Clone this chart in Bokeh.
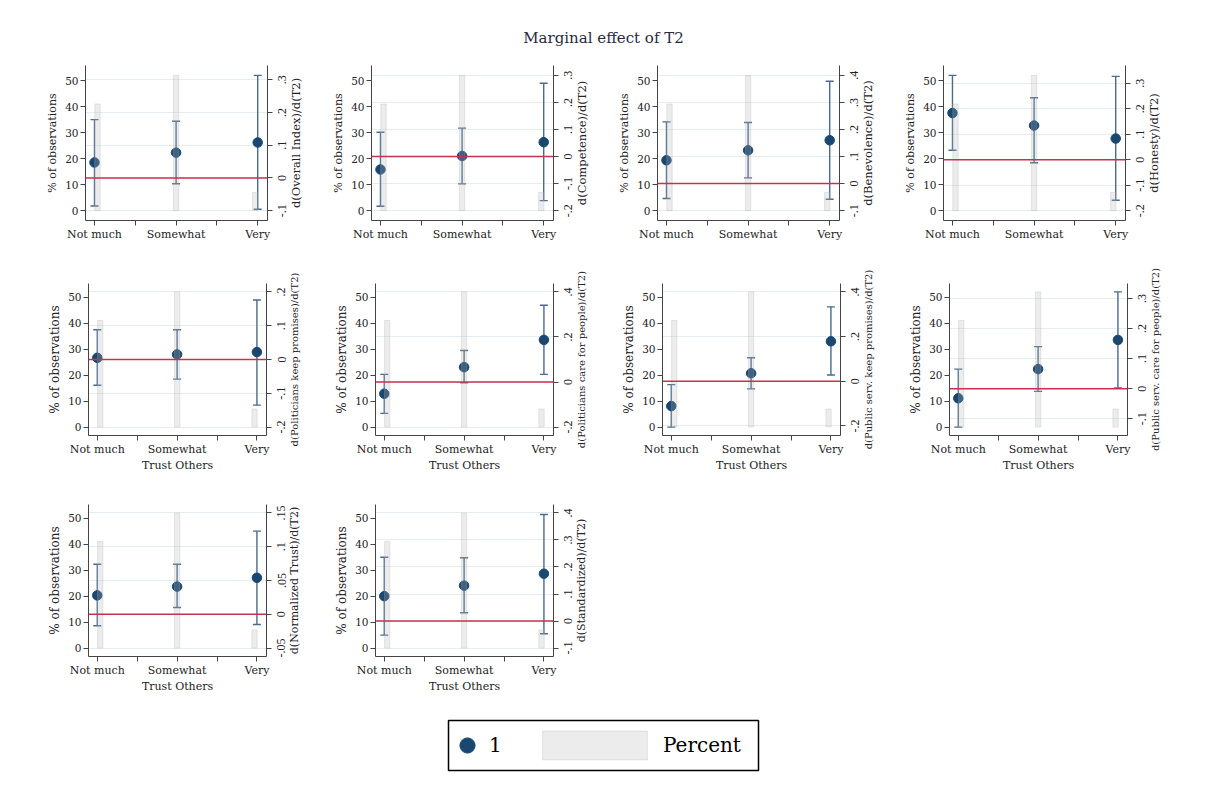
import math
from bokeh.plotting import figure
from bokeh.models import (Range1d, LinearAxis, FixedTicker, CustomJSTickFormatter, Span,
                          Whisker, TeeHead, ColumnDataSource, Legend, LegendItem, Label,
                          LabelSet, Grid, Spacer)
from bokeh.layouts import row, column
from bokeh.embed import file_html
from bokeh.resources import INLINE

# ---------------- data ----------------
TITLE = "Marginal effect of T2"
CATEGORIES = ["Not much", "Somewhat", "Very"]
X_TITLE = "Trust Others"
Y_TITLE = "% of observations"
PERCENT = [41, 52, 7]
LEFT_TICKS = [0, 10, 20, 30, 40, 50]
SERIES_LABEL = "1"
BAR_LABEL = "Percent"

OUTCOMES = ["Overall Index", "Competence", "Benevolence", "Honesty",
            "Politicians keep promises", "Politicians care for people",
            "Public serv. keep promises", "Public serv. care for people",
            "Normalized Trust", "Standardized"]

EST = [
    [0.047, 0.077, 0.108],
    [-0.048, 0.002, 0.053],
    [0.086, 0.123, 0.160],
    [0.183, 0.134, 0.083],
    [0.005, 0.015, 0.022],
    [-0.052, 0.066, 0.187],
    [-0.111, 0.036, 0.179],
    [-0.032, 0.065, 0.162],
    [0.028, 0.041, 0.054],
    [0.092, 0.131, 0.175],
]
CI_LO = [
    [-0.086, -0.018, -0.096],
    [-0.184, -0.101, -0.163],
    [-0.055, 0.021, -0.058],
    [0.037, -0.012, -0.159],
    [-0.076, -0.058, -0.135],
    [-0.139, -0.003, 0.034],
    [-0.205, -0.034, 0.028],
    [-0.128, -0.009, 0.002],
    [-0.017, 0.010, -0.015],
    [-0.052, 0.031, -0.047],
]
CI_HI = [
    [0.178, 0.173, 0.313],
    [0.090, 0.105, 0.271],
    [0.228, 0.226, 0.378],
    [0.331, 0.243, 0.327],
    [0.088, 0.088, 0.176],
    [0.034, 0.140, 0.341],
    [-0.015, 0.105, 0.333],
    [0.065, 0.140, 0.322],
    [0.074, 0.074, 0.123],
    [0.236, 0.234, 0.394],
]
RIGHT_TICKS = [
    [-0.1, 0, 0.1, 0.2, 0.3],
    [-0.2, -0.1, 0, 0.1, 0.2, 0.3],
    [-0.1, 0, 0.1, 0.2, 0.3, 0.4],
    [-0.2, -0.1, 0, 0.1, 0.2, 0.3],
    [-0.2, -0.1, 0, 0.1, 0.2],
    [-0.2, 0, 0.2, 0.4],
    [-0.2, 0, 0.2, 0.4],
    [-0.1, 0, 0.1, 0.2, 0.3],
    [-0.05, 0, 0.05, 0.1, 0.15],
    [-0.1, 0, 0.1, 0.2, 0.3, 0.4],
]

# ---------------- style ----------------
FONT = "DejaVu Serif"
NAVY = "#1a476f"
CI_COLOR = "#4a6b8e"
BAR_FILL = "#b3b3b3"
BAR_ALPHA = 0.25
ZERO_COLOR = "#c9304f"
GRID_COLOR = "#e4eef0"
AXIS_COLOR = "#444444"
TEXT_COLOR = "#222222"
BAR_SHIFT = [0.037, 0.0, -0.03]
BAR_WIDTH = 0.066
X_RANGE = (0.89, 3.12)
PAGE_OFFSET = 8
AX_BORDER = 7     # px right of frame kept in the main figure (tick marks)
RTICK_OFF = 15    # px right of frame: centre of rotated right tick labels
RTITLE_OFF = 28   # px right of frame: centre of rotated right axis title

ROWS = [
    dict(idx=[0, 1, 2, 3], fw=182, fh=155, T=12, B=28, L0=77, L=67, R=37, ext=10,
         ytitle="11px", rtitle="11.5px", pad=0.073, xtitle=False),
    dict(idx=[4, 5, 6, 7], fw=178, fh=152, T=35, B=35, L0=80, L=72, R=37, ext=15,
         ytitle="12px", rtitle="10px", pad=0.062, xtitle=True),
    dict(idx=[8, 9], fw=178, fh=152, T=30, B=35, L0=80, L=72, R=37, ext=15,
         ytitle="12px", rtitle="11px", pad=0.062, xtitle=True),
]

X_FMT = """
const k = Math.round(tick);
return Math.abs(tick - k) < 1e-9 ? cats[k - 1] : '';
"""

XPOS = list(range(1, len(CATEGORIES) + 1))
X_TICKS = sorted(XPOS + [x + 0.5 for x in XPOS[:-1]])


def stata_fmt(v):
    s = ("%.3f" % v).rstrip("0").rstrip(".")
    if s in ("-0", ""):
        s = "0"
    if s.startswith("-0."):
        return "-" + s[2:]
    if s.startswith("0."):
        return s[1:]
    return s


def style_axis(ax, tick_size="11px"):
    ax.axis_line_color = AXIS_COLOR
    ax.major_tick_line_color = AXIS_COLOR
    ax.minor_tick_line_color = None
    ax.major_tick_out = 5
    ax.major_tick_in = 0
    ax.major_label_standoff = 2
    ax.axis_label_standoff = 3
    ax.major_label_text_font = FONT
    ax.major_label_text_font_size = tick_size
    ax.major_label_text_color = TEXT_COLOR
    ax.axis_label_text_font = FONT
    ax.axis_label_text_font_style = "normal"
    ax.axis_label_text_color = TEXT_COLOR


def make_panel(i, rs, first):
    left_lo = min(min(LEFT_TICKS), 0)
    left_hi = max(max(LEFT_TICKS), max(PERCENT))
    lspan = left_hi - left_lo
    r_lo = min(min(RIGHT_TICKS[i]), min(CI_LO[i]))
    r_hi = max(max(RIGHT_TICKS[i]), max(CI_HI[i]))
    rspan = r_hi - r_lo
    pad = rs["pad"]
    fw, fh, ext = rs["fw"], rs["fh"], rs["ext"]
    me_lo, me_hi = r_lo - pad * rspan, r_hi + pad * rspan

    p = figure(frame_width=fw, frame_height=fh,
               min_border_left=rs["L0"] if first else rs["L"],
               min_border_right=AX_BORDER, min_border_top=rs["T"], min_border_bottom=rs["B"],
               x_range=Range1d(*X_RANGE),
               y_range=Range1d(left_lo - pad * lspan, left_hi + pad * lspan),
               toolbar_location=None, output_backend="svg")
    p.frame_align = False
    p.outline_line_color = None
    p.background_fill_color = "white"
    p.border_fill_color = "white"
    p.xgrid.visible = False
    p.ygrid.visible = False
    p.extra_y_ranges = {"me": Range1d(me_lo, me_hi)}

    # left axis
    yax = p.yaxis[0]
    yax.ticker = FixedTicker(ticks=LEFT_TICKS)
    yax.axis_label = Y_TITLE
    style_axis(yax, "10.5px")
    yax.axis_label_text_font_size = rs["ytitle"]

    # bottom axis
    xax = p.xaxis[0]
    xax.ticker = FixedTicker(ticks=X_TICKS)
    xax.formatter = CustomJSTickFormatter(args=dict(cats=CATEGORIES), code=X_FMT)
    style_axis(xax)
    if rs["xtitle"]:
        xax.axis_label = X_TITLE
        xax.axis_label_standoff = 0
        xax.axis_label_text_font_size = "11px"

    # right axis: line and tick marks (its rotated texts live in the side strip)
    rtick = FixedTicker(ticks=RIGHT_TICKS[i])
    rax = LinearAxis(y_range_name="me", ticker=rtick,
                     formatter=CustomJSTickFormatter(code="return '';"))
    style_axis(rax)
    rax.major_label_standoff = 0
    p.add_layout(rax, "right")

    p.add_layout(Grid(dimension=1, ticker=rtick, y_range_name="me",
                      grid_line_color=GRID_COLOR, grid_line_width=1))

    src = ColumnDataSource(dict(x=XPOS, est=EST[i], lo=CI_LO[i], hi=CI_HI[i]))
    p.add_layout(Whisker(source=src, base="x", upper="hi", lower="lo", dimension="height",
                         y_range_name="me", line_color=CI_COLOR, line_width=1.4,
                         upper_head=TeeHead(size=8, line_color=CI_COLOR, line_width=1.4),
                         lower_head=TeeHead(size=8, line_color=CI_COLOR, line_width=1.4)))
    p.scatter("x", "est", source=src, y_range_name="me", size=9.5,
              fill_color=NAVY, line_color=NAVY)

    bsrc = ColumnDataSource(dict(x=[x + s for x, s in zip(XPOS, BAR_SHIFT)], pct=PERCENT))
    p.vbar(x="x", top="pct", bottom=0, width=BAR_WIDTH, source=bsrc,
           fill_color=BAR_FILL, fill_alpha=BAR_ALPHA, line_color=BAR_FILL, line_alpha=0.3)

    p.add_layout(Span(location=0, dimension="width", y_range_name="me",
                      line_color=ZERO_COLOR, line_width=1.5))

    # side strip: right-axis tick labels and title, reading bottom-to-top
    upx = (me_hi - me_lo) / fh
    s = figure(frame_width=rs["R"] - AX_BORDER, frame_height=fh + 2 * ext,
               min_border_left=0, min_border_right=0,
               min_border_top=rs["T"] - ext, min_border_bottom=rs["B"] - ext,
               x_range=Range1d(0, 1), y_range=Range1d(me_lo - ext * upx, me_hi + ext * upx),
               x_axis_location=None, y_axis_location=None,
               toolbar_location=None, output_backend="svg")
    s.frame_align = False
    s.outline_line_color = None
    s.grid.visible = False
    tsrc = ColumnDataSource(dict(y=RIGHT_TICKS[i], text=[stata_fmt(v) for v in RIGHT_TICKS[i]]))
    s.add_layout(LabelSet(source=tsrc, x=RTICK_OFF - AX_BORDER, x_units="screen", y="y",
                          text="text", angle=math.pi / 2,
                          text_align="center", text_baseline="middle",
                          text_font=FONT, text_font_size="12px", text_color=TEXT_COLOR))
    s.add_layout(Label(x=RTITLE_OFF - AX_BORDER, x_units="screen", y=(fh + 2 * ext) / 2,
                       y_units="screen", text="d(%s)/d(T2)" % OUTCOMES[i], angle=math.pi / 2,
                       text_align="center", text_baseline="middle",
                       text_font=FONT, text_font_size=rs["rtitle"], text_color=TEXT_COLOR))
    return row(p, s, spacing=0)


rows = []
for rs in ROWS:
    cells = [make_panel(i, rs, k == 0) for k, i in enumerate(rs["idx"])]
    rows.append(row(*cells, spacing=0))

# title
tf = figure(width=1190, height=45 + PAGE_OFFSET, x_range=Range1d(0, 1), y_range=Range1d(0, 1),
            x_axis_location=None, y_axis_location=None, min_border=0,
            toolbar_location=None, output_backend="svg")
tf.frame_align = False
tf.outline_line_color = None
tf.grid.visible = False
tf.add_layout(Label(x=0.5, y=16, y_units="screen", text=TITLE, text_align="center",
                    text_baseline="middle", text_font=FONT, text_font_size="15px",
                    text_color="#2a2a40"))

# legend (proxy renderers sit outside the visible range of the legend box)
lf = figure(width=314, height=54, x_range=Range1d(-3, -2), y_range=Range1d(-3, -2),
            x_axis_location=None, y_axis_location=None, min_border=2,
            toolbar_location=None, output_backend="svg")
lf.frame_align = False
lf.outline_line_color = "black"
lf.outline_line_width = 1.5
lf.grid.visible = False
r1 = lf.scatter(x=XPOS[:1], y=EST[0][:1], fill_color=NAVY, line_color=NAVY)
r2 = lf.vbar(x=XPOS[:1], top=PERCENT[:1], width=BAR_WIDTH, fill_color=BAR_FILL,
             fill_alpha=BAR_ALPHA, line_color=BAR_FILL, line_alpha=0.3)
common = dict(padding=0, margin=0, border_line_color=None, background_fill_alpha=0,
              label_text_font=FONT, label_text_font_size="20px", label_text_color="black",
              label_standoff=3)
legA = Legend(items=[LegendItem(label=SERIES_LABEL, renderers=[r1])], location=(0, 5),
              glyph_width=38, glyph_height=40, **common)
legB = Legend(items=[LegendItem(label=BAR_LABEL, renderers=[r2])], location=(81, 7),
              glyph_width=131, glyph_height=36, **common)
lf.add_layout(legA)
lf.add_layout(legB)

body = column(tf, *rows, Spacer(height=23),
              row(Spacer(width=438), lf, spacing=0), spacing=0)
layout = row(Spacer(width=PAGE_OFFSET), body, spacing=0)

open("out.html", "w").write(file_html(layout, INLINE))
